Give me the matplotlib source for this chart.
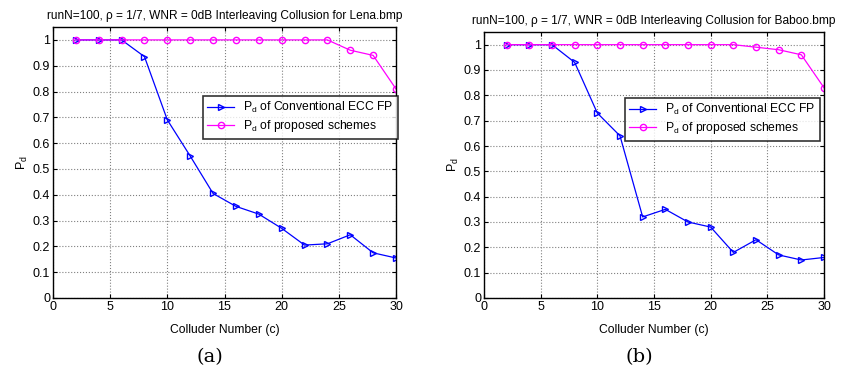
import matplotlib
matplotlib.use("Agg")
import matplotlib.pyplot as plt

plt.rcParams['font.family'] = ['Liberation Sans', 'DejaVu Sans']
plt.rcParams['mathtext.fontset'] = 'custom'
plt.rcParams['mathtext.rm'] = 'Liberation Sans'
plt.rcParams['mathtext.it'] = 'Liberation Sans'

colluders = [2, 4, 6, 8, 10, 12, 14, 16, 18, 20, 22, 24, 26, 28, 30]

# (a) Lena
lena_ecc = [1, 1, 1, 0.935, 0.69, 0.55, 0.405, 0.355, 0.325, 0.27, 0.205, 0.21, 0.245, 0.175, 0.155]
lena_prop = [1, 1, 1, 1, 1, 1, 1, 1, 1, 1, 1, 1, 0.96, 0.94, 0.81]

# (b) Baboo
baboo_ecc = [1, 1, 1, 0.93, 0.73, 0.64, 0.32, 0.35, 0.30, 0.28, 0.18, 0.23, 0.17, 0.15, 0.16]
baboo_prop = [1, 1, 1, 1, 1, 1, 1, 1, 1, 1, 1, 0.99, 0.98, 0.96, 0.83]

xticks = [0, 5, 10, 15, 20, 25, 30]
yticks = [0, 0.1, 0.2, 0.3, 0.4, 0.5, 0.6, 0.7, 0.8, 0.9, 1]
ytick_labels = ['0', '0.1', '0.2', '0.3', '0.4', '0.5', '0.6', '0.7', '0.8', '0.9', '1']

titles = ['runN=100, \u03c1 = 1/7, WNR = 0dB Interleaving Collusion for Lena.bmp',
          'runN=100, \u03c1 = 1/7, WNR = 0dB Interleaving Collusion for Baboo.bmp']
captions = ['(a)', '(b)']
labels = [r'$\mathregular{P_d}$ of Conventional ECC FP',
          r'$\mathregular{P_d}$ of proposed schemes']

fig = plt.figure(figsize=(8.41, 3.71), dpi=100)
W, H = 841, 371
boxes = [(53, 27, 396, 298), (484, 32, 824, 298)]
legend_boxes = [(203, 96), (625, 98)]
series = [(lena_ecc, lena_prop), (baboo_ecc, baboo_prop)]

for i in range(2):
    x0, y0, x1, y1 = boxes[i]
    ax = fig.add_axes([x0 / W, 1 - y1 / H, (x1 - x0) / W, (y1 - y0) / H])
    ecc, prop = series[i]
    ax.plot(colluders, ecc, color='#0000ff', marker='>', markersize=5,
            markerfacecolor='none', linewidth=0.9, label=labels[0])
    ax.plot(colluders, prop, color='#ff00ff', marker='o', markersize=4.5,
            markerfacecolor='none', linewidth=0.9, label=labels[1])
    ax.set_xlim(0, 30)
    ax.set_ylim(0, 1.05)
    ax.set_xticks(xticks)
    ax.set_xticklabels([str(t) for t in xticks])
    ax.set_yticks(yticks)
    ax.set_yticklabels(ytick_labels)
    ax.grid(True, linestyle=':', color='#808080', linewidth=0.8)
    ax.tick_params(direction='in', labelsize=9, top=True, right=True, length=3, pad=2)
    for s in ax.spines.values():
        s.set_linewidth(1.0)
    ax.set_title(titles[i], fontsize=8.6, pad=6)
    ax.set_xlabel('Colluder Number (c)', fontsize=8.7, labelpad=8)
    ax.set_ylabel(r'P$_\mathregular{d}$', fontsize=9, labelpad=2)
    lx, ly = legend_boxes[i]
    leg = ax.legend(loc='upper left', bbox_to_anchor=((lx - x0) / (x1 - x0), (y1 - ly) / (y1 - y0)),
                    fontsize=8.7, frameon=True, fancybox=False, edgecolor='black',
                    borderaxespad=0, handlelength=2.2, labelspacing=0.25, borderpad=0.35)
    leg.get_frame().set_linewidth(1.2)
    fig.text(((x0 + x1) / 2 - 15) / W, 1 - 357 / H, captions[i], ha='center', va='center',
             fontsize=14, family='DejaVu Serif')

fig.savefig('out.png', dpi=100)
